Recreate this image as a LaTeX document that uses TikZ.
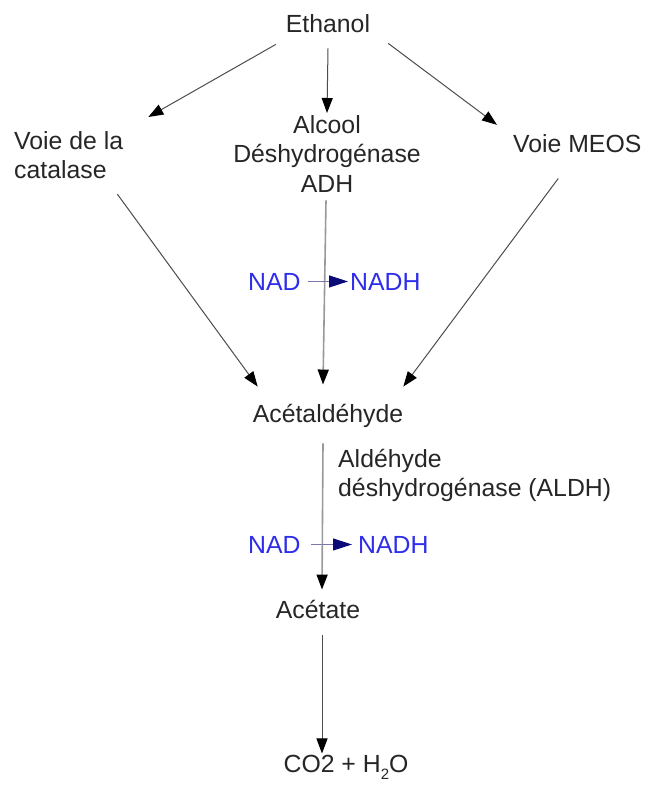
\documentclass[tikz,border=0pt]{standalone}
\usepackage{fontspec}
\setmainfont{Liberation Sans}
\usetikzlibrary{arrows.meta}
\definecolor{nadblue}{RGB}{45,45,235}
\definecolor{nadline}{RGB}{120,120,170}
\definecolor{nadtip}{RGB}{10,10,120}
\begin{document}
\begin{tikzpicture}[x=1pt, y=-1pt,
    lbl/.style={font=\fontsize{24.8}{29.5}\selectfont, inner sep=0pt, text=black!85},
    nadlbl/.style={lbl, text=nadblue},
    flow/.style={draw=black!70, line width=1pt, -{Triangle[length=15pt,width=11pt,black]}},
    enzflow/.style={flow, draw=black!40, line width=1.6pt},
    nadflow/.style={draw=nadline, line width=1pt, -{Triangle[length=19pt,width=12pt,nadtip]}}]
  \useasboundingbox (0,0) rectangle (650,785);
  \draw
    (328,32) node[lbl, anchor=base] (ethanol) {Ethanol}
    (14,131) node[lbl, anchor=north west, align=left] (catalase) {Voie de la\\catalase}
    (327,115) node[lbl, anchor=north, align=center] (adh) {Alcool\\Déshydrogénase\\ADH}
    (513,152) node[lbl, anchor=base west] (meos) {Voie MEOS}
    (248,290) node[nadlbl, anchor=base west] (nad1) {NAD}
    (350,290) node[nadlbl, anchor=base west] (nadh1) {NADH}
    (328,422) node[lbl, anchor=base] (acetald) {Acétaldéhyde}
    (338,449) node[lbl, anchor=north west, align=left] (aldh) {Aldéhyde\\déshydrogénase (ALDH)}
    (248,553) node[nadlbl, anchor=base west] (nad2) {NAD}
    (358,553) node[nadlbl, anchor=base west] (nadh2) {NADH}
    (318,618) node[lbl, anchor=base] (acetate) {Acétate}
    (346,772) node[lbl, anchor=base] (products) {CO2 + H\raisebox{-7pt}{\fontsize{15}{15}\selectfont 2}O};
  \begin{scope}
    \draw[flow] ([shift={(-10,12)}]ethanol.south west) to ([shift={(25,-14)}]catalase.north east);
    \draw[flow] ([shift={(0,16)}]ethanol.south) to ([shift={(0,-2)}]adh.north);
    \draw[flow] ([shift={(18,11)}]ethanol.south east) to ([shift={(-16,-9)}]meos.north west);
    \draw[flow] ([shift={(-6,15)}]catalase.south east) to ([shift={(5,-17)}]acetald.north west);
    \draw[enzflow] ([shift={(-1,8)}]adh.south) to ([shift={(-5,-19)}]acetald.north);
    \draw[flow] ([shift={(-19,26)}]meos.south) to ([shift={(0,-17)}]acetald.north east);
    \draw[enzflow] ([shift={(-5,16)}]acetald.south) to ([shift={(4,-10)}]acetate.north);
    \draw[flow] ([shift={(4,17)}]acetate.south) to ([shift={(-24,-1)}]products.north);
    \draw[nadflow] ([shift={(7,0)}]nad1.east) to ([shift={(-2,0)}]nadh1.west);
    \draw[nadflow] ([shift={(10,0)}]nad2.east) to ([shift={(-6,0)}]nadh2.west);
  \end{scope}
\end{tikzpicture}
\end{document}
